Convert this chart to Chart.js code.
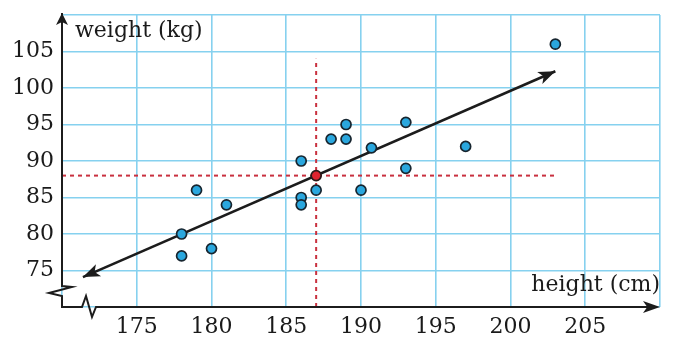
<!DOCTYPE html>
<html>
<head>
<meta charset="utf-8">
<script src="https://cdn.jsdelivr.net/npm/chart.js@4/dist/chart.umd.min.js"></script>
<style>
    html, body { margin: 0; padding: 0; background: #ffffff; }
    #wrap { width: 678px; height: 352px; position: relative; }
</style>
</head>
<body>
<div id="wrap"><canvas id="chart"></canvas></div>
<script>
// Data
const heights = [178, 178, 179, 180, 181, 186, 186, 186, 187, 188, 189, 189, 190.7, 190, 193, 193, 197, 203];
const weights = [80, 77, 86, 78, 84, 90, 85, 84, 86, 93, 95, 93, 91.8, 86, 95.3, 89, 92, 106];
const meanPoint = { x: 187, y: 88 };
const fitLine = [{ x: 171.4, y: 74.1 }, { x: 203, y: 102.3 }];
const meanVLine = [{ x: 187, y: 70 }, { x: 187, y: 104 }];
const meanHLine = [{ x: 170, y: 88 }, { x: 203, y: 88 }];
const xTicks = [175, 180, 185, 190, 195, 200, 205];
const yTicks = [75, 80, 85, 90, 95, 100, 105];
const xRange = [170, 210];
const yRange = [70, 110];

const FONT = '"DejaVu Serif", "Liberation Serif", serif';
const GRID = '#86d1ef';
const INK = '#1c1c1c';

const points = heights.map((h, i) => ({ x: h, y: weights[i] }));

/**
 * Draws a filled arrowhead with a small notch at (tx, ty) pointing along angle.
 */
function arrowHead(ctx, tx, ty, angle, len, half) {
    ctx.save();
    ctx.translate(tx, ty);
    ctx.rotate(angle);
    ctx.beginPath();
    ctx.moveTo(0, 0);
    ctx.lineTo(-len, -half);
    ctx.lineTo(-len * 0.75, 0);
    ctx.lineTo(-len, half);
    ctx.closePath();
    ctx.fill();
    ctx.restore();
}

const decorPlugin = {
    id: 'decor',
    afterDraw(chart) {
        const ctx = chart.ctx;
        const xs = chart.scales.x, ys = chart.scales.y;
        const x0 = xs.getPixelForValue(xRange[0]);
        const y0 = ys.getPixelForValue(yRange[0]);
        const xEnd = xs.getPixelForValue(xRange[1]);
        const yTop = ys.getPixelForValue(yRange[1]);

        ctx.save();
        ctx.strokeStyle = INK;
        ctx.fillStyle = INK;
        ctx.lineWidth = 2;
        ctx.lineJoin = 'miter';

        // y axis with break
        ctx.beginPath();
        ctx.moveTo(x0, yTop - 2);
        ctx.lineTo(x0, y0 - 21);
        ctx.lineTo(x0 + 10, y0 - 20);
        ctx.lineTo(x0 - 13, y0 - 14);
        ctx.lineTo(x0, y0 - 11);
        ctx.lineTo(x0, y0);
        // x axis with break
        ctx.lineTo(x0 + 20, y0);
        ctx.lineTo(x0 + 24, y0 - 11);
        ctx.lineTo(x0 + 30, y0 + 10);
        ctx.lineTo(x0 + 34, y0);
        ctx.lineTo(xEnd - 8, y0);
        ctx.stroke();
        arrowHead(ctx, xEnd, y0, 0, 17, 6);
        arrowHead(ctx, x0, yTop - 2, -Math.PI / 2, 12, 6);

        // arrowheads on the fitted line
        const p1 = { x: xs.getPixelForValue(fitLine[0].x), y: ys.getPixelForValue(fitLine[0].y) };
        const p2 = { x: xs.getPixelForValue(fitLine[1].x), y: ys.getPixelForValue(fitLine[1].y) };
        const ang = Math.atan2(p2.y - p1.y, p2.x - p1.x);
        arrowHead(ctx, p2.x, p2.y, ang, 17, 6.5);
        arrowHead(ctx, p1.x, p1.y, ang + Math.PI, 17, 6.5);

        // axis titles
        ctx.font = '22px ' + FONT;
        ctx.fillStyle = '#1a1a1a';
        ctx.textBaseline = 'alphabetic';
        ctx.textAlign = 'left';
        ctx.fillText('weight (kg)', x0 + 13, yTop + 22);
        ctx.textAlign = 'right';
        ctx.fillText('height (cm)', xEnd, y0 - 16);
        ctx.restore();
    }
};

const ctx = document.getElementById('chart').getContext('2d');
new Chart(ctx, {
    type: 'scatter',
    data: {
        datasets: [
            {
                label: 'mean height', data: meanVLine, showLine: true, borderColor: '#c9303f',
                borderWidth: 2, borderDash: [4, 4], pointRadius: 0, order: 4, clip: false
            },
            {
                label: 'mean weight', data: meanHLine, showLine: true, borderColor: '#c9303f',
                borderWidth: 2, borderDash: [4, 4], pointRadius: 0, order: 4, clip: false
            },
            {
                label: 'line of best fit', data: fitLine, showLine: true, borderColor: INK,
                borderWidth: 2.6, pointRadius: 0, order: 3, clip: false
            },
            {
                label: 'data', data: points, backgroundColor: '#2aa7de', borderColor: '#17252f',
                borderWidth: 1.7, pointRadius: 5, order: 2, clip: false
            },
            {
                label: 'mean', data: [meanPoint], backgroundColor: '#e0232f', borderColor: '#2a1a1a',
                borderWidth: 1.7, pointRadius: 5, order: 1, clip: false
            }
        ]
    },
    options: {
        responsive: true,
        maintainAspectRatio: false,
        animation: false,
        layout: { padding: { top: 15, right: 18, left: 0, bottom: 0 } },
        plugins: { legend: { display: false }, tooltip: { enabled: false } },
        scales: {
            x: {
                type: 'linear', min: xRange[0], max: xRange[1],
                afterBuildTicks: scale => { scale.ticks = [xRange[0]].concat(xTicks, [xRange[1]]).map(v => ({ value: v })); },
                afterFit: scale => { scale.height = 45; scale.paddingLeft = 0; scale.paddingRight = 0; },
                border: { display: false },
                grid: { color: GRID, lineWidth: 1.6, drawTicks: false },
                ticks: {
                    padding: 7, color: '#1a1a1a', font: { family: FONT, size: 22 },
                    callback: v => (xTicks.includes(v) ? String(v) : '')
                }
            },
            y: {
                type: 'linear', min: yRange[0], max: yRange[1],
                afterBuildTicks: scale => { scale.ticks = [yRange[0]].concat(yTicks, [yRange[1]]).map(v => ({ value: v })); },
                afterFit: scale => { scale.width = 62; scale.paddingTop = 0; scale.paddingBottom = 0; },
                border: { display: false },
                grid: { color: GRID, lineWidth: 1.6, drawTicks: false },
                ticks: {
                    padding: 8, color: '#1a1a1a', font: { family: FONT, size: 22 },
                    callback: v => (yTicks.includes(v) ? String(v) : '')
                }
            }
        }
    },
    plugins: [decorPlugin]
});
</script>
</body>
</html>
